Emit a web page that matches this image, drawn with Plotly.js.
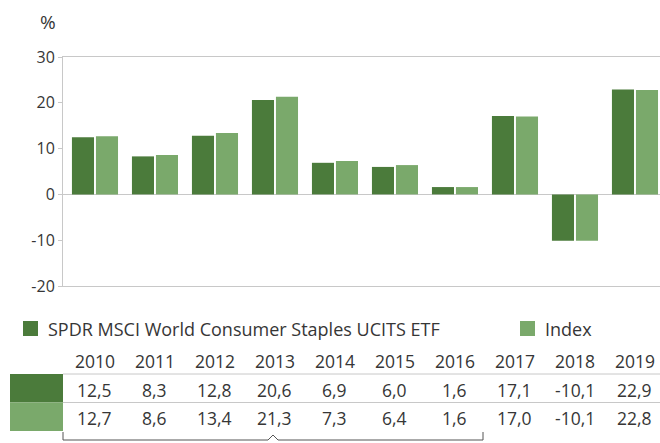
<!DOCTYPE html>
<html>
<head>
<meta charset="utf-8">
<script src="https://cdn.plot.ly/plotly-3.0.1.min.js"></script>
<style>html,body{margin:0;padding:0;background:#fff;}#chart{width:660px;height:443px;}</style>
</head>
<body>
<div id="chart"></div>
<script>
const years = ['2010','2011','2012','2013','2014','2015','2016','2017','2018','2019'];
const etfValues = [12.5, 8.3, 12.8, 20.6, 6.9, 6.0, 1.6, 17.1, -10.1, 22.9];
const indexValues = [12.7, 8.6, 13.4, 21.3, 7.3, 6.4, 1.6, 17.0, -10.1, 22.8];
const seriesNames = ['SPDR MSCI World Consumer Staples UCITS ETF', 'Index'];
const yTicks = [-20, -10, 0, 10, 20, 30];

const darkGreen = '#4b7b3b';
const lightGreen = '#7aa96b';
const lineGray = '#c8c8c8';
const textColor = '#363636';
const fontFamily = '"Open Sans", "Noto Sans", sans-serif';

// pixel helpers (plot area: x 63..660, y 57..286)
const L = 63, R = 660, T = 57, B = 286;
const px = p => (p - L) / (R - L);
const py = p => (B - p) / (B - T);
const fmt = v => v.toFixed(1).replace('.', ',');

const traces = [
  {type: 'bar', x: years.map((_, i) => i), y: etfValues, name: seriesNames[0],
   marker: {color: darkGreen}, hoverinfo: 'y'},
  {type: 'bar', x: years.map((_, i) => i), y: indexValues, name: seriesNames[1],
   marker: {color: lightGreen}, hoverinfo: 'y'}
];

const annotations = [];
const shapes = [];

annotations.push({xref: 'paper', yref: 'paper', x: px(48), y: py(22), text: '%',
  showarrow: false, xanchor: 'center', yanchor: 'middle',
  font: {family: fontFamily, size: 19, color: textColor}});

// legend
shapes.push({type: 'rect', xref: 'paper', yref: 'paper', x0: px(23), x1: px(38), y0: py(321), y1: py(336),
  fillcolor: darkGreen, line: {width: 0}});
shapes.push({type: 'rect', xref: 'paper', yref: 'paper', x0: px(520), x1: px(535), y0: py(321), y1: py(336),
  fillcolor: lightGreen, line: {width: 0}});
annotations.push({xref: 'paper', yref: 'paper', x: px(46), y: py(329), text: seriesNames[0],
  showarrow: false, xanchor: 'left', yanchor: 'middle',
  font: {family: fontFamily, size: 18, color: textColor}});
annotations.push({xref: 'paper', yref: 'paper', x: px(543), y: py(329), text: seriesNames[1],
  showarrow: false, xanchor: 'left', yanchor: 'middle',
  font: {family: fontFamily, size: 18, color: textColor}});

// table
years.forEach((yr, i) => {
  annotations.push({xref: 'x', yref: 'paper', x: i, y: py(361), text: yr, showarrow: false,
    xanchor: 'center', yanchor: 'middle', font: {family: fontFamily, size: 17.5, color: textColor}});
  annotations.push({xref: 'x', yref: 'paper', x: i, y: py(390), text: fmt(etfValues[i]), showarrow: false,
    xanchor: 'center', yanchor: 'middle', font: {family: fontFamily, size: 17.5, color: textColor}});
  annotations.push({xref: 'x', yref: 'paper', x: i, y: py(418), text: fmt(indexValues[i]), showarrow: false,
    xanchor: 'center', yanchor: 'middle', font: {family: fontFamily, size: 17.5, color: textColor}});
});
shapes.push({type: 'rect', xref: 'paper', yref: 'paper', x0: px(10), x1: px(63), y0: py(374), y1: py(402.5),
  fillcolor: darkGreen, line: {width: 0}});
shapes.push({type: 'rect', xref: 'paper', yref: 'paper', x0: px(10), x1: px(63), y0: py(402.5), y1: py(431),
  fillcolor: lightGreen, line: {width: 0}});
shapes.push({type: 'line', xref: 'paper', yref: 'paper', x0: px(63), x1: px(660), y0: py(374), y1: py(374),
  line: {color: lineGray, width: 1}});
shapes.push({type: 'line', xref: 'paper', yref: 'paper', x0: px(63), x1: px(660), y0: py(402.5), y1: py(402.5),
  line: {color: lineGray, width: 1}});

// bracket
const by = 440, bt = 432, cx = 273;
shapes.push({type: 'path', xref: 'paper', yref: 'paper',
  path: `M ${px(63)} ${py(bt)} L ${px(63)} ${py(by)} L ${px(cx-5)} ${py(by)} L ${px(cx)} ${py(by-5)} L ${px(cx+5)} ${py(by)} L ${px(483)} ${py(by)} L ${px(483)} ${py(bt)}`,
  line: {color: '#555555', width: 1}});

const layout = {
  width: 660, height: 443,
  margin: {l: L, r: 660 - R, t: T, b: 443 - B, pad: 0},
  paper_bgcolor: '#ffffff', plot_bgcolor: '#ffffff',
  showlegend: false,
  barmode: 'group', bargap: 0.2, bargroupgap: 0.08,
  font: {family: fontFamily, color: textColor},
  xaxis: {range: [-0.533, 9.417], showticklabels: false, ticks: '', showgrid: false,
    zeroline: false, showline: true, mirror: true, linecolor: lineGray, linewidth: 1, fixedrange: true},
  yaxis: {range: [-20, 30], tickvals: yTicks, ticktext: yTicks.map(String), showgrid: false,
    zeroline: true, zerolinecolor: lineGray, zerolinewidth: 1,
    showline: true, linecolor: lineGray, linewidth: 1,
    ticks: 'outside', ticklen: 4, tickcolor: lineGray, tickwidth: 1,
    tickfont: {family: fontFamily, size: 16, color: textColor}, fixedrange: true},
  annotations: annotations,
  shapes: shapes
};

Plotly.newPlot('chart', traces, layout, {displayModeBar: false, staticPlot: true});
</script>
</body>
</html>
